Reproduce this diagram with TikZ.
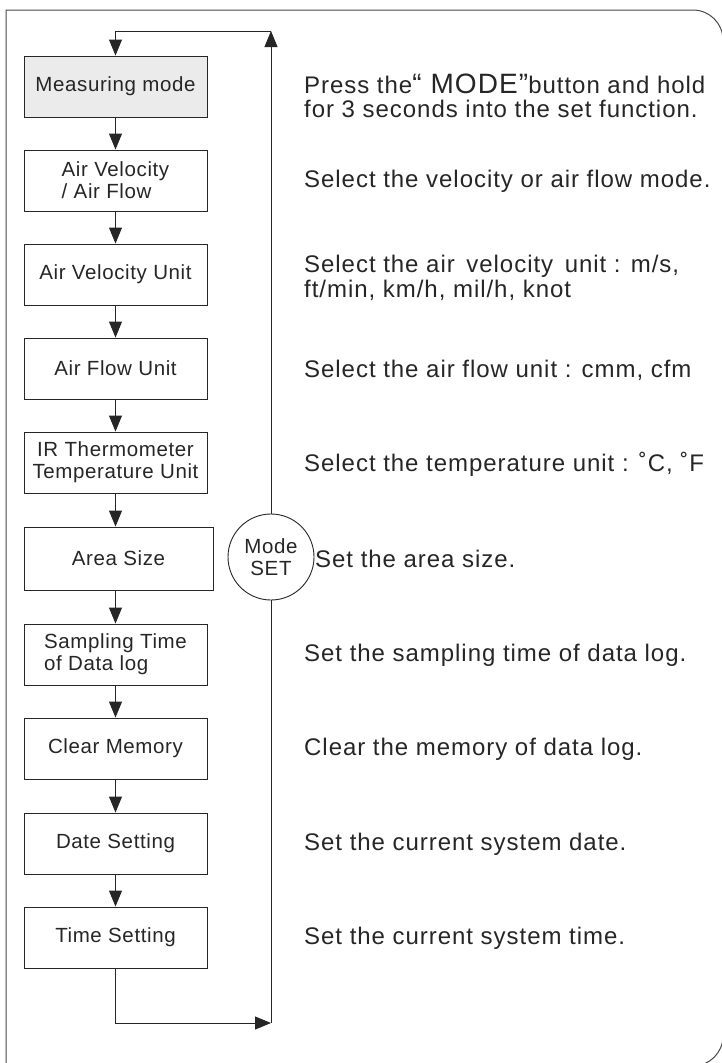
\documentclass[tikz,border=0pt]{standalone}
\usepackage{fontspec}
\setmainfont{Liberation Sans}[LetterSpace=3]
\newfontfamily\notefont{Liberation Sans}[LetterSpace=4]
\usetikzlibrary{arrows.meta}
\usetikzlibrary{positioning}

\definecolor{ink}{HTML}{262626}
\definecolor{modefill}{HTML}{EBEBEB}

\tikzset{
  stepbox/.style={draw=ink, line width=0.9pt, minimum width=183pt,
    minimum height=61pt, inner sep=0pt, text=ink,
    font=\fontsize{20.5}{22}\selectfont},
  note/.style={anchor=west, align=left, inner sep=0pt, text=ink,
    font=\notefont\fontsize{24}{24.5}\selectfont},
  flow/.style={draw=ink, line width=0.9pt, -{Triangle[length=16pt,width=13pt]}},
  plain/.style={draw=ink, line width=0.9pt},
}

\begin{document}
\begin{tikzpicture}[x=1pt, y=-1pt]
        \useasboundingbox (0,0) rectangle (722,1063);

        % Outer frame, square on the left, round on the right
        \draw[ink!85, line width=1pt] (6,1080) -- (6,10) -- (693,10)
            [rounded corners=30pt] -- (723,10) -- (723,1066) -- (6,1066);

        % The chain of modes (one box after the other, top to bottom)
        \node (meas)  [stepbox, fill=modefill] at (115.5, 86.5) {Measuring mode};
        \node (velo)  [stepbox, align=left]   at (115.5,180.5) {Air Velocity\\ / Air Flow};
        \node (vunit) [stepbox]               at (115.5,274.5) {Air Velocity Unit};
        \node (funit) [stepbox]               at (115.5,368.5) {Air Flow Unit};
        \node (tunit) [stepbox, align=center] at (115.5,462.5) {IR Thermometer\\Temperature Unit};
        \node (area)  [stepbox, minimum width=189pt, minimum height=63pt]
                                              at (118.5,558.5) {Area Size};
        \node (samp)  [stepbox, align=left]   at (115.5,654.5) {Sampling Time\\of Data log};
        \node (clear) [stepbox]               at (115.5,748.5) {Clear Memory};
        \node (date)  [stepbox]               at (115.5,843.5) {Date Setting};
        \node (time)  [stepbox]               at (115.5,937.5) {Time Setting};

        % The button that steps through them
        \node (set) [draw=ink, line width=0.9pt, circle, fill=white, minimum size=86pt,
            inner sep=0pt, align=center, text=ink, font=\fontsize{20.5}{22}\selectfont]
            at (271,557) {Mode\\SET};

        % What each step does
        \node (n0) [note] at (304, 96) {Press the{\fontsize{28}{24.5}\selectfont“ MODE”}button and hold\\for 3 seconds into the set function.};
        \node (n1) [note] at (304,181) {Select the velocity or air flow mode.};
        \node (n2) [note] at (304,278) {Select the air\hspace{4pt} velocity\hspace{4pt} unit : m/s,\\ft/min, km/h, mil/h, knot};
        \node (n3) [note] at (304,370) {Select the air flow unit : cmm, cfm};
        \node (n4) [note] at (304,464) {Select the temperature unit : ˚C, ˚F};
        \node (n5) [note] at (315,559) {Set the area size.};
        \node (n6) [note] at (304,655) {Set the sampling time of data log.};
        \node (n7) [note] at (304,749) {Clear the memory of data log.};
        \node (n8) [note] at (304,844) {Set the current system date.};
        \node (n9) [note] at (304,938) {Set the current system time.};

        % Arrows down the chain
        \draw[flow] (meas.south)  -- (meas.south  |- velo.north);
        \draw[flow] (velo.south)  -- (velo.south  |- vunit.north);
        \draw[flow] (vunit.south) -- (vunit.south |- funit.north);
        \draw[flow] (funit.south) -- (funit.south |- tunit.north);
        \draw[flow] (tunit.south) -- (tunit.south |- area.north);
        \draw[flow] (tunit.south |- area.south) -- (tunit.south |- samp.north);
        \draw[flow] (samp.south)  -- (samp.south  |- clear.north);
        \draw[flow] (clear.south) -- (clear.south |- date.north);
        \draw[flow] (date.south)  -- (date.south  |- time.north);

        % Back round to the start
        \coordinate (botR) at (271,1023);
        \coordinate (topR) at (271,31);
        \draw[flow] (time.south) |- (botR);
        \draw[plain] (botR) -- (set.south);
        \draw[flow] (set.north) -- (topR);
        \draw[flow] (topR) -| (meas.north);
\end{tikzpicture}
\end{document}
